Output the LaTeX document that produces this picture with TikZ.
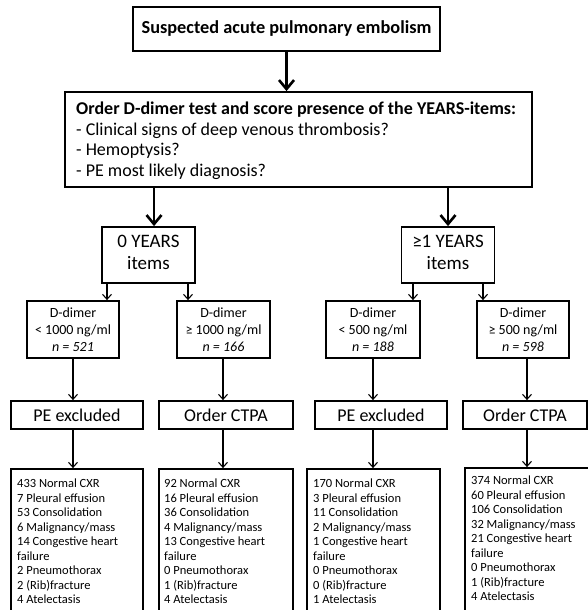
\documentclass[tikz,border=0pt]{standalone}
\usepackage{fontspec}
\setmainfont{Carlito}
\usetikzlibrary{arrows.meta}
\begin{document}
\begin{tikzpicture}[x=1pt,y=-1pt,
  box/.style={draw,line width=1.8pt,inner sep=0pt,align=center},
  txt/.style={anchor=north west,inner sep=0pt,align=left},
  bigarrow/.style={line width=2.6pt,-{Straight Barb[length=9pt,width=15pt,line width=2.6pt]}},
  smallarrow/.style={line width=1.1pt,-{Straight Barb[length=5pt,width=9pt,line width=1.1pt]}},
  years/.style={box,minimum width=93pt,minimum height=56pt},
  yearstxt/.style={inner sep=0pt,align=center,font=\fontsize{19}{22.5}\selectfont},
  dimer/.style={box,minimum height=57pt,font=\fontsize{14}{17}\selectfont},
  result/.style={box,minimum height=28pt,font=\fontsize{18}{20}\selectfont},
  listbox/.style={box,minimum height=151pt},
  listtxt/.style={txt,font=\fontsize{12.5}{14.5}\selectfont},
]
\useasboundingbox (0,0) rectangle (588,610);

% entry point and YEARS assessment
\node[box,minimum width=307pt,minimum height=44pt,font=\fontsize{18.3}{20}\selectfont\bfseries]
  (title) at (286.5,29) {Suspected acute pulmonary embolism};
\node[box,minimum width=467pt,minimum height=95pt] (order) at (298.5,139.5) {};
\node[txt,font=\fontsize{18}{20.8}\selectfont] (ordertxt) at (76,101.5)
  {\textbf{Order D-dimer test and score presence of the YEARS-items:}\\
   - Clinical signs of deep venous thrombosis?\\
   - Hemoptysis?\\
   - PE most likely diagnosis?};

% YEARS branches
\node[years] (y0) at (148.5,255) {};
\node[years] (y1) at (448,255) {};
\node[yearstxt] (y0t) at ([yshift=2.5pt]y0.center) {0 YEARS\\items};
\node[yearstxt] (y1t) at ([yshift=2.5pt]y1.center) {≥1 YEARS\\items};

% D-dimer thresholds
\node[dimer,minimum width=92pt] (d1) at (73,329.5) {D-dimer\\< 1000 ng/ml\\\textit{n = 521}};
\node[dimer,minimum width=93pt] (d2) at (223.5,329.5) {D-dimer\\≥ 1000 ng/ml\\\textit{n = 166}};
\node[dimer,minimum width=94pt] (d3) at (373,329.5) {D-dimer\\< 500 ng/ml\\\textit{n = 188}};
\node[dimer,minimum width=92pt] (d4) at (523,329.5) {D-dimer\\≥ 500 ng/ml\\\textit{n = 598}};

% management
\node[result,minimum width=132pt] (e1) at (77,415) {PE excluded};
\node[result,minimum width=134pt] (e2) at (226,415) {Order CTPA};
\node[result,minimum width=132pt] (e3) at (381,415) {PE excluded};
\node[result,minimum width=124pt] (e4) at (525,415) {Order CTPA};

% chest X-ray findings
\node[listbox,minimum width=132pt] (l1) at (77,544.5) {};
\node[listbox,minimum width=134pt] (l2) at (226,544.5) {};
\node[listbox,minimum width=133pt] (l3) at (373.5,544.5) {};
\node[listbox,minimum width=125pt] (l4) at (527.5,543.5) {};

\node[listtxt] (l1t) at (17,479) {433 Normal CXR\\7 Pleural effusion\\53 Consolidation\\6 Malignancy/mass\\14 Congestive heart\\failure\\2 Pneumothorax\\2 (Rib)fracture\\4 Atelectasis};
\node[listtxt] (l2t) at (164,479) {92 Normal CXR\\16 Pleural effusion\\36 Consolidation\\4 Malignancy/mass\\13 Congestive heart\\failure\\0 Pneumothorax\\1 (Rib)fracture\\4 Atelectasis};
\node[listtxt] (l3t) at (313,479) {170 Normal CXR\\3 Pleural effusion\\11 Consolidation\\2 Malignancy/mass\\1 Congestive heart\\failure\\0 Pneumothorax\\0 (Rib)fracture\\1 Atelectasis};
\node[listtxt] (l4t) at (471,476) {374 Normal CXR\\60 Pleural effusion\\106 Consolidation\\32 Malignancy/mass\\21 Congestive heart\\failure\\0 Pneumothorax\\1 (Rib)fracture\\4 Atelectasis};

% connector columns
\coordinate (ca) at (154,0);
\coordinate (cb) at (448,0);
\coordinate (c1) at (107,0);
\coordinate (c2) at (188,0);
\coordinate (c3) at (413,0);
\coordinate (c4) at (483,0);
\coordinate (k1) at (73,0);
\coordinate (k2) at (223,0);
\coordinate (k3) at (373,0);
\coordinate (k4) at (527,0);

\draw[bigarrow] (title.south) -- (title.south |- order.north);
\draw[bigarrow] (order.south -| ca) -- (y0.north -| ca);
\draw[bigarrow] (order.south -| cb) -- (y1.north -| cb);

\draw[smallarrow] (y0.south -| c1) -- (d1.north -| c1);
\draw[smallarrow] (y0.south -| c2) -- (d2.north -| c2);
\draw[smallarrow] (y1.south -| c3) -- (d3.north -| c3);
\draw[smallarrow] (y1.south -| c4) -- (d4.north -| c4);

\draw[smallarrow] (d1.south -| k1) -- (e1.north -| k1);
\draw[smallarrow] (d2.south -| k2) -- (e2.north -| k2);
\draw[smallarrow] (d3.south -| k3) -- (e3.north -| k3);
\draw[smallarrow] (d4.south -| k4) -- (e4.north -| k4);

\draw[smallarrow] (e1.south -| k1) -- (l1.north -| k1);
\draw[smallarrow] (e2.south -| k2) -- (l2.north -| k2);
\draw[smallarrow] (e3.south -| k3) -- (l3.north -| k3);
\draw[smallarrow] (e4.south -| k4) -- (l4.north -| k4);
\end{tikzpicture}
\end{document}
